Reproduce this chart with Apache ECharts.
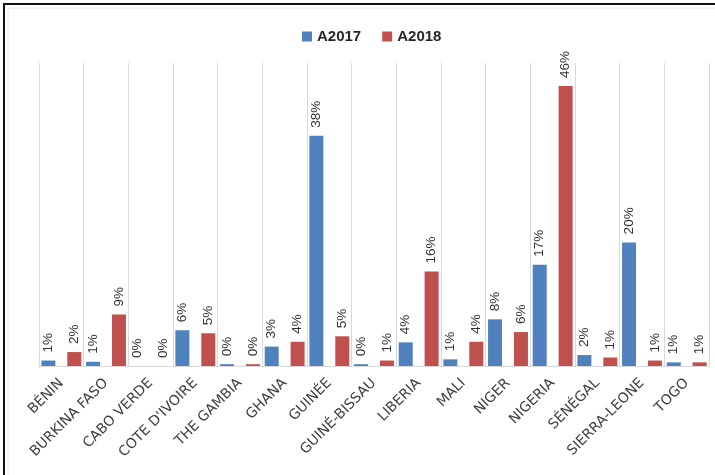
<!DOCTYPE html>
<html>
<head>
<meta charset="utf-8">
<script src="https://cdn.jsdelivr.net/npm/echarts@6/dist/echarts.min.js"></script>
<style>
html,body{margin:0;padding:0;background:#fff;}
#chart{width:715px;height:475px;}
</style>
</head>
<body>
<div id="chart"></div>
<script>
const categories = ['BÉNIN','BURKINA FASO','CABO VERDE',"COTE D'IVOIRE",'THE GAMBIA','GHANA','GUINÉE','GUINÉ-BISSAU','LIBERIA','MALI','NIGER','NIGERIA','SÉNÉGAL','SIERRA-LEONE','TOGO'];
const seriesNames = ['A2017','A2018'];
const a2017 = [0.9, 0.7, 0, 5.9, 0.3, 3.2, 38, 0.3, 3.9, 1.1, 7.7, 16.7, 1.8, 20.4, 0.6];
const a2018 = [2.3, 8.5, 0, 5.4, 0.3, 4.0, 4.9, 0.9, 15.6, 4.0, 5.6, 46.2, 1.4, 0.9, 0.6];
const colors = ['#4F81BD', '#C0504D'];

const chart = echarts.init(document.getElementById('chart'));
const labelCfg = {
  show: true,
  position: 'top',
  rotate: 90,
  align: 'left',
  verticalAlign: 'middle',
  distance: 8,
  fontSize: 13.5,
  color: '#333333',
  fontFamily: 'Liberation Sans',
  formatter: p => Math.round(p.value) + '%'
};
chart.setOption({
  animation: false,
  backgroundColor: '#fff',
  graphic: [
    {type: 'line', shape: {x1: 3, y1: 4, x2: 715, y2: 4}, style: {stroke: '#111', lineWidth: 2}},
    {type: 'line', shape: {x1: 4, y1: 3, x2: 4, y2: 475}, style: {stroke: '#111', lineWidth: 2}},
    {type: 'line', shape: {x1: 8, y1: 8, x2: 715, y2: 8}, style: {stroke: '#e6e6e6', lineWidth: 1}},
    {type: 'line', shape: {x1: 8, y1: 8, x2: 8, y2: 475}, style: {stroke: '#e6e6e6', lineWidth: 1}}
  ],
  legend: {
    data: seriesNames,
    left: 297,
    top: 24,
    icon: 'rect',
    itemWidth: 10,
    itemHeight: 10,
    itemGap: 21,
    textStyle: {fontSize: 15, fontWeight: 'bold', color: '#262626', fontFamily: 'Liberation Sans'}
  },
  grid: {left: 39, right: 6, top: 63, bottom: 109, containLabel: false},
  xAxis: {
    type: 'category',
    data: categories,
    axisLine: {show: true, lineStyle: {color: '#d9d9d9'}},
    axisTick: {show: false},
    splitLine: {show: true, interval: 0, lineStyle: {color: '#d9d9d9', width: 1}},
    axisLabel: {
      interval: 0,
      rotate: 45,
      margin: 15,
      fontSize: 14,
      color: '#404040',
      fontFamily: 'DejaVu Sans'
    }
  },
  yAxis: {
    type: 'value',
    min: 0,
    max: 50,
    show: false,
    splitLine: {show: false}
  },
  series: [
    {name: seriesNames[0], type: 'bar', data: a2017, barWidth: 14, barGap: '85%', itemStyle: {color: colors[0]}, label: labelCfg},
    {name: seriesNames[1], type: 'bar', data: a2018, barWidth: 14, itemStyle: {color: colors[1]}, label: labelCfg}
  ]
});
</script>
</body>
</html>
